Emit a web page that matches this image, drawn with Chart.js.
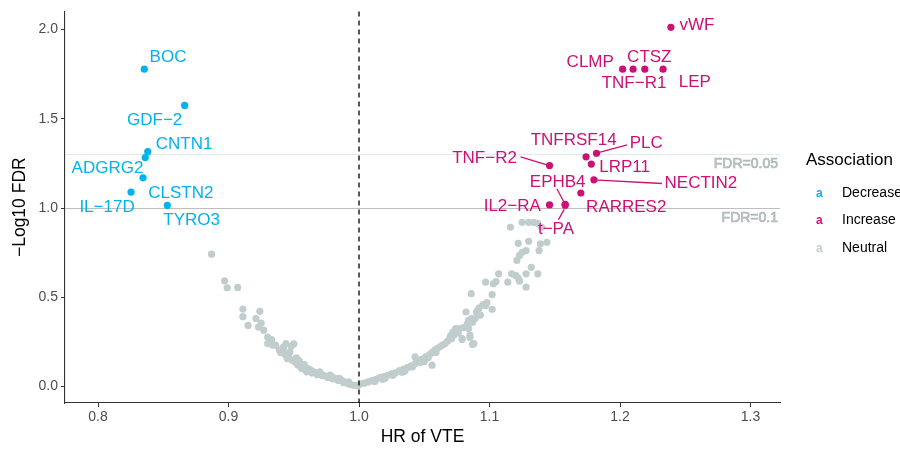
<!DOCTYPE html>
<html><head><meta charset="utf-8">
<script src="https://cdn.jsdelivr.net/npm/chart.js@4.4.1/dist/chart.umd.min.js"></script>
<style>
html,body{margin:0;padding:0;background:#fff;}
#wrap{position:relative;width:900px;height:450px;overflow:hidden;font-family:"Liberation Sans",Arial,sans-serif;}
canvas{position:absolute;left:0;top:0;}
.lg{position:absolute;white-space:nowrap;color:#000;}
.key{position:absolute;font-weight:bold;font-size:12px;line-height:14px;}
</style></head><body>
<div id="wrap"><canvas id="c" width="900" height="450"></canvas>
<div class="lg" style="left:806px;top:150px;font-size:17px;line-height:20px">Association</div>
<div class="key" style="left:816px;top:186px;color:#00B2EE">a</div>
<div class="lg" style="left:842px;top:183px;font-size:14px;line-height:18px">Decrease</div>
<div class="key" style="left:816px;top:213px;color:#CD1076">a</div>
<div class="lg" style="left:842px;top:210px;font-size:14px;line-height:18px">Increase</div>
<div class="key" style="left:816px;top:241px;color:#C1CDCD">a</div>
<div class="lg" style="left:842px;top:238px;font-size:14px;line-height:18px">Neutral</div>
</div>
<script>
// ---- data ----
const decreaseNames = ["BOC","GDF−2","CNTN1","ADGRG2","CLSTN2","IL−17D","TYRO3"];
const decreaseHR    = [0.8355,0.8664,0.8381,0.8362,0.8345,0.8253,0.8531];
const decreaseFDR   = [1.778,1.575,1.316,1.283,1.169,1.089,1.015];

const increaseNames = ["vWF","CLMP","TNF−R1","CTSZ","LEP","TNFRSF14","PLC","LRP11","TNF−R2","NECTIN2","RARRES2","EPHB4","t−PA","IL2−RA"];
const increaseHR    = [1.239,1.202,1.210,1.219,1.233,1.174,1.182,1.178,1.146,1.180,1.170,1.158,1.158,1.146];
const increaseFDR   = [2.013,1.778,1.778,1.778,1.778,1.287,1.307,1.246,1.238,1.158,1.084,1.020,1.015,1.017];

const neutralHR = [
0.887,0.897,0.899,0.907,0.911,0.911,0.924,0.915,0.921,0.925,0.923,0.927,0.930,0.933,0.930,0.936,0.939,0.942,0.944,0.948,
0.950,0.947,0.945,0.946,0.951,0.952,0.955,0.954,0.957,0.958,0.960,0.961,0.963,0.965,0.967,0.969,0.971,0.973,0.975,0.977,
0.979,0.981,0.983,0.985,0.987,0.989,0.991,0.993,0.995,0.997,0.999,0.934,0.942,0.949,0.962,0.970,0.978,0.985,0.992,
0.940,0.943,0.953,0.956,0.959,0.964,0.968,0.972,0.976,0.980,0.984,0.988,
1.001,1.004,1.007,1.010,1.013,1.016,1.019,1.022,1.025,1.028,1.031,1.034,1.037,1.040,1.043,1.045,1.048,1.051,1.054,1.056,
1.058,1.060,1.062,1.064,1.066,1.043,1.056,1.050,1.035,1.020,
1.012,1.018,1.026,1.033,1.041,1.047,1.053,1.059,
1.070,1.072,1.071,1.074,1.077,1.079,1.084,1.085,1.088,1.084,1.087,1.082,1.090,1.091,1.097,1.102,1.086,1.102,1.095,1.097,
1.103,1.105,1.107,1.114,1.117,1.120,1.122,1.123,1.128,1.128,1.132,1.137,1.121,1.123,1.125,1.128,1.122,1.130,1.139,1.144,
1.138,1.116,1.125,1.130,1.134,1.137,1.140,1.071,1.079,1.085,1.087,1.086,
1.080,1.083,1.089,1.093,1.076,1.068,1.073,1.092,1.098];
const neutralFDR = [
0.741,0.592,0.553,0.555,0.434,0.391,0.421,0.342,0.380,0.355,0.333,0.315,0.277,0.262,0.240,0.231,0.203,0.212,0.240,0.225,
0.238,0.193,0.156,0.175,0.137,0.160,0.128,0.145,0.110,0.122,0.082,0.100,0.092,0.082,0.078,0.072,0.068,0.062,0.056,0.053,
0.050,0.046,0.042,0.038,0.032,0.024,0.018,0.012,0.008,0.005,0.003,0.231,0.221,0.147,0.091,0.082,0.063,0.045,0.026,
0.190,0.180,0.120,0.100,0.090,0.075,0.065,0.060,0.050,0.042,0.033,0.022,
0.015,0.018,0.025,0.032,0.040,0.050,0.055,0.062,0.070,0.076,0.088,0.095,0.105,0.115,0.128,0.140,0.152,0.165,0.178,0.190,
0.203,0.212,0.222,0.232,0.240,0.165,0.119,0.140,0.085,0.046,
0.028,0.040,0.062,0.080,0.110,0.135,0.160,0.190,
0.281,0.305,0.290,0.324,0.324,0.268,0.324,0.287,0.240,0.370,0.360,0.417,0.417,0.426,0.454,0.432,0.520,0.514,0.458,0.584,
0.575,0.588,0.631,0.584,0.631,0.622,0.607,0.590,0.556,0.631,0.668,0.631,0.706,0.734,0.752,0.761,0.802,0.813,0.799,0.808,
0.761,0.892,0.920,0.920,0.920,0.914,0.892,0.268,0.263,0.274,0.235,0.380,
0.330,0.350,0.380,0.400,0.300,0.255,0.290,0.440,0.470];

const xTicks = [0.8,0.9,1.0,1.1,1.2,1.3];
const xTickLabels = ["0.8","0.9","1.0","1.1","1.2","1.3"];
const yTicks = [0,0.5,1.0,1.5,2.0];
const yTickLabels = ["0.0","0.5","1.0","1.5","2.0"];
const fdrThresholds = [0.05, 0.1];
const fdrLabels = ["FDR=0.05","FDR=0.1"];
const nullHR = 1.0;

// ---- styles / label placement (pixels) ----
const COL_DEC = "#00B2EE", COL_INC = "#CD1076", COL_NEU = "#C1CDCD";
const FONT = '"Liberation Sans", Arial, sans-serif';
const labelOffset = {
  "BOC":[23.7,-13],"GDF−2":[-30,13.7],"CNTN1":[36.3,-8.2],"ADGRG2":[-37.8,10],"CLSTN2":[37.8,14],"IL−17D":[-24,13.7],"TYRO3":[24.4,13.6],
  "vWF":[26,-3],"CLMP":[-32.4,-8.3],"CTSZ":[4.5,-13],"TNF−R1":[1,13],"LEP":[31.7,12],"TNFRSF14":[-12.4,-17],"PLC":[49.8,-10.6],
  "LRP11":[33.3,1.7],"TNF−R2":[-65,-8.7],"NECTIN2":[107,2.7],"RARRES2":[45.4,13.7],"EPHB4":[-7.5,-23],"IL2−RA":[-37.3,0],"t−PA":[-9.2,22.7]
};
const segment = {
  "PLC":[[0,0],[30.7,-8.3]], "TNF−R2":[[0,0],[-29,-8.7]], "NECTIN2":[[0,0],[68,3.7]],
  "EPHB4":[[0,0],[-8.3,-15.7]], "t−PA":[[-1,4],[-6.7,14.3]]
};

const pts = (xs, ys) => xs.map((v,i)=>({x:v,y:ys[i]}));

const plug = {
  id:'extras',
  beforeDatasetsDraw(chart){
    const {ctx, chartArea:a, scales:{x,y}} = chart;
    ctx.save();
    const cols = ["#DDEBEB","#BEBEBE"];
    fdrThresholds.forEach((t,i)=>{
      const py = Math.round(y.getPixelForValue(-Math.log10(t)))+0.5;
      ctx.strokeStyle = cols[i]; ctx.lineWidth = 1.1;
      ctx.beginPath(); ctx.moveTo(a.left,py); ctx.lineTo(a.right,py); ctx.stroke();
    });
    ctx.restore();
  },
  afterDatasetsDraw(chart){
    const {ctx, chartArea:a, scales:{x,y}} = chart;
    ctx.save();
    const px = x.getPixelForValue(nullHR);
    ctx.strokeStyle = "#000"; ctx.lineWidth = 1.3; ctx.setLineDash([5,4]);
    ctx.beginPath(); ctx.moveTo(px,a.top); ctx.lineTo(px,a.bottom); ctx.stroke();
    ctx.setLineDash([]);
    ctx.font = "14px " + FONT; ctx.textAlign = "right"; ctx.textBaseline = "middle";
    fdrThresholds.forEach((t,i)=>{
      const py = y.getPixelForValue(-Math.log10(t)) + 10;
      ctx.lineWidth = 0.7; ctx.strokeStyle = "#AEB8B8"; ctx.fillStyle = "#BCC6C6";
      ctx.fillText(fdrLabels[i], a.right - 2, py);
      ctx.strokeText(fdrLabels[i], a.right - 2, py);
    });
    const groups = [[decreaseNames,decreaseHR,decreaseFDR,COL_DEC],[increaseNames,increaseHR,increaseFDR,COL_INC]];
    ctx.font = "17px " + FONT; ctx.textAlign = "center"; ctx.textBaseline = "middle";
    groups.forEach(([names,hr,fdr,col])=>{
      names.forEach((n,i)=>{
        const cx = x.getPixelForValue(hr[i]), cy = y.getPixelForValue(fdr[i]);
        ctx.fillStyle = col; ctx.strokeStyle = col;
        if (segment[n]) {
          const [s,e] = segment[n];
          ctx.lineWidth = 1.3;
          ctx.beginPath(); ctx.moveTo(cx+s[0],cy+s[1]); ctx.lineTo(cx+e[0],cy+e[1]); ctx.stroke();
        }
        const o = labelOffset[n];
        ctx.fillText(n, cx+o[0], cy+o[1]+1);
      });
    });
    ctx.restore();
  },
  afterDraw(chart){
    const {ctx, chartArea:a} = chart;
    ctx.save();
    ctx.fillStyle = "#000"; ctx.font = "17.5px " + FONT; ctx.textAlign="center"; ctx.textBaseline="middle";
    ctx.fillText("HR of VTE", (a.left+a.right)/2, 437);
    ctx.translate(20, (a.top+a.bottom)/2); ctx.rotate(-Math.PI/2);
    ctx.fillText("−Log10 FDR", 0, 0);
    ctx.restore();
  }
};

const axisCommon = {
  grid:{drawOnChartArea:false, drawTicks:true, tickLength:4, color:"#333", tickWidth:1},
  border:{display:true, color:"#333", width:1.1},
};

new Chart(document.getElementById('c'), {
  type:'scatter',
  data:{datasets:[
    {label:"Neutral", data:pts(neutralHR,neutralFDR), backgroundColor:COL_NEU, pointRadius:3.6, borderWidth:0},
    {label:"Decrease", data:pts(decreaseHR,decreaseFDR), backgroundColor:COL_DEC, pointRadius:3.6, borderWidth:0},
    {label:"Increase", data:pts(increaseHR,increaseFDR), backgroundColor:COL_INC, pointRadius:3.6, borderWidth:0}
  ]},
  options:{
    responsive:false, animation:false,
    layout:{padding:{top:10,right:120,left:0,bottom:0}},
    plugins:{legend:{display:false}, tooltip:{enabled:false}},
    scales:{
      x:Object.assign({type:'linear', min:0.7747, max:1.3226,
        afterBuildTicks:s=>{ s.ticks = xTicks.map(v=>({value:v})); },
        afterFit:s=>{ s.height = 47; },
        ticks:{callback:(v,i)=>xTickLabels[i], font:{size:14,family:FONT}, color:"#4D4D4D", padding:2, autoSkip:false, maxRotation:0}
      }, axisCommon),
      y:Object.assign({type:'linear', min:-0.093, max:2.102,
        afterBuildTicks:s=>{ s.ticks = yTicks.map(v=>({value:v})); },
        afterFit:s=>{ s.width = 65; },
        ticks:{callback:(v,i)=>yTickLabels[i], font:{size:14,family:FONT}, color:"#4D4D4D", padding:3, autoSkip:false}
      }, axisCommon)
    }
  },
  plugins:[plug]
});
</script>
</body></html>
